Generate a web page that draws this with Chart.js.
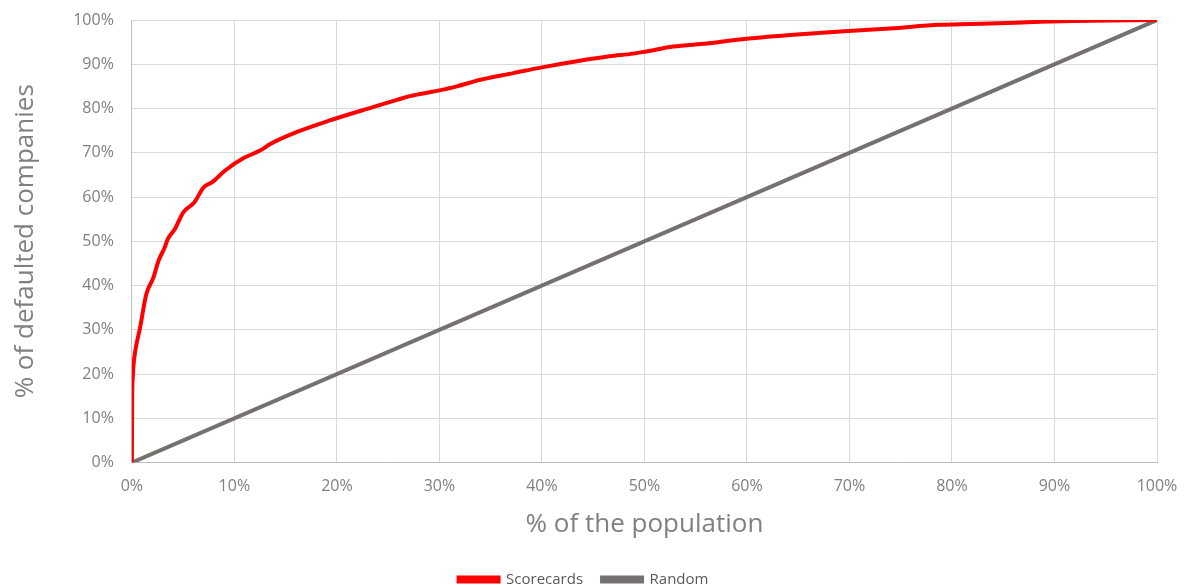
<!DOCTYPE html>
<html lang="en">
<head>
    <meta charset="UTF-8">
    <title>CAP curve</title>
    <script src="https://cdn.jsdelivr.net/npm/chart.js"></script>
    <style>
        html, body { margin: 0; padding: 0; background: #fff; }
        #wrap { width: 1187px; height: 588px; }
    </style>
</head>
<body>
<div id="wrap"><canvas id="capChart" width="1187" height="588"></canvas></div>
<script>
// Scorecards curve (% of population, % of defaulted companies)
const scorecardX = [0, 0.03, 0.08, 0.18, 0.35, 0.8, 1.4, 2.1, 2.6, 3.2, 3.5, 4.2, 5.0, 6.1, 7.0, 7.8, 9.1, 10.9,
    12.5, 13.5, 16.1, 19.3, 23.5, 25.8, 27.1, 30.0, 31.7, 34.0, 37.2, 40.0, 43.7, 46.6, 48.9,
    50.2, 52.8, 56.1, 59.3, 64.2, 69.1, 74.0, 78.8, 83.7, 88.6, 91.8, 100];
const scorecardY = [0, 14.6, 19, 22.5, 25.5, 30.5, 38, 41.8, 45.6, 48.6, 50.5, 52.8, 56.5, 58.8, 62.2, 63.3, 66, 68.8,
    70.5, 72, 74.7, 77.3, 80.3, 81.9, 82.8, 84.1, 85, 86.5, 88, 89.3, 90.8, 91.8, 92.4,
    92.9, 94, 94.7, 95.6, 96.6, 97.4, 98.1, 98.9, 99.2, 99.6, 99.8, 100];

// Random model: diagonal
const randomX = [0, 100];
const randomY = [0, 100];

const seriesNames = ['Scorecards', 'Random'];
const xTitle = '% of the population';
const yTitle = '% of defaulted companies';

function toPoints(xs, ys) {
    return xs.map((x, i) => ({ x: x, y: ys[i] }));
}

const gridColor = '#d9d9d9';
const tickColor = '#808080';
const fontFamily = '"Open Sans", "Noto Sans", sans-serif';

new Chart(document.getElementById('capChart').getContext('2d'), {
    type: 'scatter',
    data: {
        datasets: [{
            label: seriesNames[0],
            data: toPoints(scorecardX, scorecardY),
            showLine: true,
            borderColor: '#ff0000',
            backgroundColor: '#ff0000',
            borderWidth: 4,
            pointRadius: 0,
            cubicInterpolationMode: 'monotone'
        }, {
            label: seriesNames[1],
            data: toPoints(randomX, randomY),
            showLine: true,
            borderColor: '#767171',
            backgroundColor: '#767171',
            borderWidth: 4,
            pointRadius: 0
        }]
    },
    options: {
        responsive: false,
        animation: false,
        layout: { padding: { left: 10, right: 30, top: 20, bottom: -9 } },
        scales: {
            x: {
                min: 0, max: 100,
                ticks: {
                    stepSize: 10,
                    color: tickColor,
                    font: { family: fontFamily, size: 16 },
                    padding: 8,
                    callback: v => v + '%'
                },
                // invisible tick marks just to push the labels off the axis
                grid: { color: gridColor, drawTicks: true, tickLength: 6, tickColor: 'rgba(0,0,0,0)' },
                border: { color: '#bfbfbf' },
                title: {
                    display: true,
                    text: xTitle,
                    color: tickColor,
                    font: { family: fontFamily, size: 26 },
                    padding: { top: 5, bottom: 13 }
                }
            },
            y: {
                min: 0, max: 100,
                ticks: {
                    stepSize: 10,
                    color: tickColor,
                    font: { family: fontFamily, size: 16 },
                    padding: 10,
                    callback: v => v + '%'
                },
                grid: { color: gridColor, drawTicks: true, tickLength: 8, tickColor: 'rgba(0,0,0,0)' },
                border: { color: '#bfbfbf' },
                title: {
                    display: true,
                    text: yTitle,
                    color: tickColor,
                    font: { family: fontFamily, size: 26 },
                    padding: { top: 0, bottom: 22 }
                }
            }
        },
        plugins: {
            legend: {
                position: 'bottom',
                labels: {
                    boxWidth: 40,
                    boxHeight: 4,
                    color: '#595959',
                    font: { family: fontFamily, size: 15 },
                    padding: 19
                }
            },
            tooltip: { enabled: false }
        }
    }
});
</script>
</body>
</html>
